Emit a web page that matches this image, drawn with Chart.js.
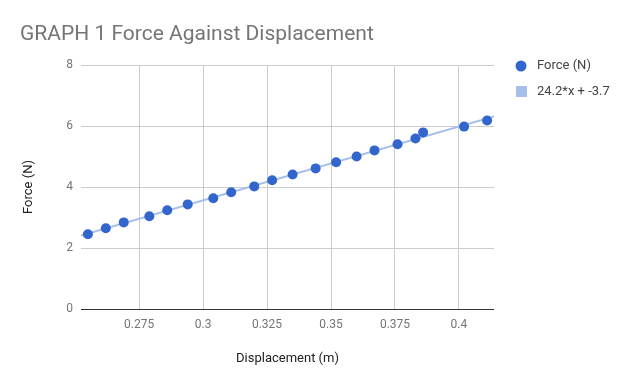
<!DOCTYPE html>
<html>
<head>
<meta charset="utf-8">
<script src="https://cdn.jsdelivr.net/npm/chart.js@4.4.0/dist/chart.umd.min.js"></script>
<style>
  html, body { margin: 0; padding: 0; background: #fff; }
  #wrap { width: 624px; height: 385px; position: relative; }
</style>
</head>
<body>
<div id="wrap"><canvas id="chart"></canvas></div>
<script>
// Displacement (m) and force (N)
const displacement = [0.255, 0.262, 0.269, 0.279, 0.286, 0.294, 0.304, 0.311, 0.320, 0.327,
                      0.335, 0.344, 0.352, 0.360, 0.367, 0.376, 0.383, 0.386, 0.402, 0.411];
const force = [2.45, 2.65, 2.84, 3.04, 3.24, 3.43, 3.63, 3.83, 4.02, 4.22,
               4.41, 4.61, 4.81, 5.00, 5.20, 5.40, 5.59, 5.79, 5.98, 6.18];

// trendline ends (24.2*x + -3.7) at the edges of the x axis
const trendX = [0.2523, 0.4137];
const trendY = [2.41, 6.31];

const xTicks = [0.275, 0.3, 0.325, 0.35, 0.375, 0.4];
const yTicks = [0, 2, 4, 6, 8];

const titleText = "GRAPH 1 Force Against Displacement";
const seriesNames = ["Force (N)", "24.2*x + -3.7"];

const pointColor = "#3366cc";
const trendColor = "#a7bfeb";
const FONT = "Roboto, 'Noto Sans', sans-serif";

// title and legend drawn by hand, google charts style
const extras = {
    id: "extras",
    afterDraw(chart) {
        const c = chart.ctx;
        c.save();
        c.fillStyle = "#757575";
        c.font = "21px " + FONT;
        c.textBaseline = "alphabetic";
        c.textAlign = "left";
        c.fillText(titleText, 20, 40);

        c.font = "13px " + FONT;
        c.textBaseline = "middle";
        c.fillStyle = pointColor;
        c.beginPath();
        c.arc(521, 66, 5.5, 0, Math.PI * 2);
        c.fill();
        c.fillStyle = trendColor;
        c.fillRect(516, 86, 11, 11);
        c.fillStyle = "#444";
        c.fillText(seriesNames[0], 537, 66);
        c.fillText(seriesNames[1], 537, 92);
        c.restore();
    }
};

new Chart(document.getElementById("chart"), {
    type: "scatter",
    data: {
        datasets: [
            {
                label: seriesNames[0],
                data: displacement.map((x, i) => ({ x: x, y: force[i] })),
                backgroundColor: pointColor,
                borderColor: pointColor,
                pointRadius: 5,
                pointBorderWidth: 0,
                order: 1
            },
            {
                label: seriesNames[1],
                type: "line",
                data: trendX.map((x, i) => ({ x: x, y: trendY[i] })),
                borderColor: trendColor,
                borderWidth: 2,
                pointRadius: 0,
                fill: false,
                order: 2
            }
        ]
    },
    options: {
        responsive: true,
        maintainAspectRatio: false,
        animation: false,
        layout: { padding: { top: 65, right: 130, left: 0, bottom: 0 } },
        plugins: {
            legend: { display: false },
            title: { display: false },
            tooltip: { enabled: false }
        },
        scales: {
            x: {
                type: "linear",
                min: trendX[0],
                max: trendX[1],
                afterBuildTicks: axis => { axis.ticks = xTicks.map(v => ({ value: v })); },
                afterFit: axis => { axis.height = 76; },
                border: { display: false },
                grid: { color: "#cccccc", drawTicks: false },
                ticks: {
                    color: "#757575",
                    padding: 9,
                    font: { family: FONT, size: 12 },
                    callback: v => String(v)
                },
                title: {
                    display: true,
                    text: "Displacement (m)",
                    color: "#222",
                    font: { family: FONT, size: 13 },
                    padding: { top: 0, bottom: 18 }
                }
            },
            y: {
                min: 0,
                max: 8,
                afterBuildTicks: axis => { axis.ticks = yTicks.map(v => ({ value: v })); },
                afterFit: axis => { axis.width = 81; },
                border: { display: false },
                grid: {
                    color: ctx => ctx.tick && ctx.tick.value === 0 ? "#333333" : "#cccccc",
                    drawTicks: false
                },
                ticks: {
                    color: "#757575",
                    padding: 8,
                    font: { family: FONT, size: 12 }
                },
                title: {
                    display: true,
                    text: "Force (N)",
                    color: "#222",
                    font: { family: FONT, size: 13 },
                    padding: { top: 21, bottom: 0 }
                }
            }
        }
    },
    plugins: [extras]
});
</script>
</body>
</html>
